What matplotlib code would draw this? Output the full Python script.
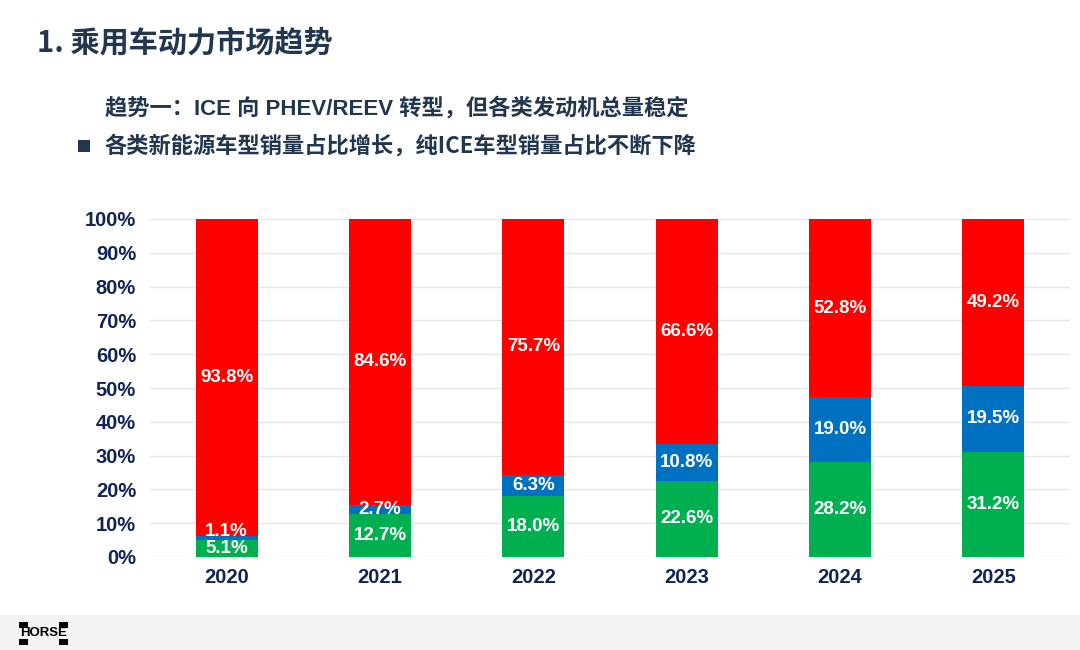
import matplotlib.pyplot as plt
from matplotlib.patches import Rectangle
import numpy as np

plt.rcParams['font.family'] = ['Liberation Sans', 'Noto Sans CJK SC', 'DejaVu Sans']

# --- data ---
years = ['2020', '2021', '2022', '2023', '2024', '2025']
green_share = [5.1, 12.7, 18.0, 22.6, 28.2, 31.2]
blue_share = [1.1, 2.7, 6.3, 10.8, 19.0, 19.5]
red_share = [93.8, 84.6, 75.7, 66.6, 52.8, 49.2]
y_ticks = [0, 10, 20, 30, 40, 50, 60, 70, 80, 90, 100]

title = '1. 乘用车动力市场趋势'
line1 = '趋势一：ICE 向 PHEV/REEV 转型，但各类发动机总量稳定'
line2 = '各类新能源车型销量占比增长，纯ICE车型销量占比不断下降'

GREEN = '#00B050'
BLUE = '#0070C0'
RED = '#FF0000'
NAVY = '#10245A'
SLATE = '#22364F'

fig = plt.figure(figsize=(10.8, 6.5), dpi=100)
fig.patch.set_facecolor('white')

# footer band
fig.patches.append(Rectangle((0, 0), 1, 35 / 650, transform=fig.transFigure,
                             facecolor='#F3F3F3', edgecolor='none', zorder=0))

cjk = ['Noto Sans CJK SC', 'Liberation Sans', 'DejaVu Sans']
latin_first = ['Liberation Sans', 'Noto Sans CJK SC', 'DejaVu Sans']
fig.text(37 / 1080, 1 - 42 / 650, title, fontsize=21, fontweight='bold',
         color=SLATE, va='center', ha='left', family=cjk)
fig.text(105 / 1080, 1 - 108 / 650, line1, fontsize=16, fontweight='bold',
         color=SLATE, va='center', ha='left', family=latin_first)
fig.patches.append(Rectangle((78 / 1080, 1 - 152 / 650), 12 / 1080, 12 / 650,
                             transform=fig.transFigure, facecolor=SLATE,
                             edgecolor='none'))
fig.text(104 / 1080, 1 - 146 / 650, line2, fontsize=16, fontweight='bold',
         color=SLATE, va='center', ha='left', family=cjk)

# HORSE logo (simplified)
for x0 in (19, 59):
    fig.patches.append(Rectangle((x0 / 1080, 1 - 628 / 650), 9 / 1080, 6 / 650,
                                 transform=fig.transFigure, facecolor='black'))
    fig.patches.append(Rectangle((x0 / 1080, 1 - 645 / 650), 9 / 1080, 6 / 650,
                                 transform=fig.transFigure, facecolor='black'))
fig.text(43.5 / 1080, 1 - 633.5 / 650, 'HORSE', fontsize=9.5, fontweight='bold',
         color='black', ha='center', va='center')

# --- chart ---
ax = fig.add_axes([150 / 1080, 1 - 557 / 650, 920 / 1080, 338 / 650])
x = np.arange(len(years))
w = 0.405

green = np.array(green_share)
blue = np.array(blue_share)
red = np.array(red_share)

ax.bar(x, green, w, color=GREEN, zorder=3)
ax.bar(x, blue, w, bottom=green, color=BLUE, zorder=3)
ax.bar(x, red, w, bottom=green + blue, color=RED, zorder=3)

lab = dict(color='white', fontsize=13.5, fontweight='bold', ha='center',
           va='center', zorder=4)
for i in range(len(years)):
    ax.text(x[i], green[i] / 2, f'{green[i]:.1f}%', **lab)
    yb = green[i] + (blue[i] / 2 if blue[i] >= 2 else 2.5)
    ax.text(x[i], yb, f'{blue[i]:.1f}%', **lab)
    ax.text(x[i], green[i] + blue[i] + red[i] / 2, f'{red[i]:.1f}%', **lab)

ax.set_xlim(-0.5, len(years) - 0.5)
ax.set_ylim(0, 100)
ax.set_yticks(y_ticks)
ax.set_yticklabels([f'{t}%' for t in y_ticks])
ax.set_xticks(x)
ax.set_xticklabels(years)
ax.tick_params(axis='both', length=0, labelsize=14.5, labelcolor=NAVY)
ax.tick_params(axis='y', pad=10)
ax.tick_params(axis='x', pad=8)
for lbl in ax.get_xticklabels() + ax.get_yticklabels():
    lbl.set_fontweight('bold')
ax.grid(axis='y', color='#E3E6EA', linewidth=1, zorder=0)
for s in ax.spines.values():
    s.set_visible(False)

fig.savefig('out.png', dpi=100, facecolor=fig.get_facecolor())
